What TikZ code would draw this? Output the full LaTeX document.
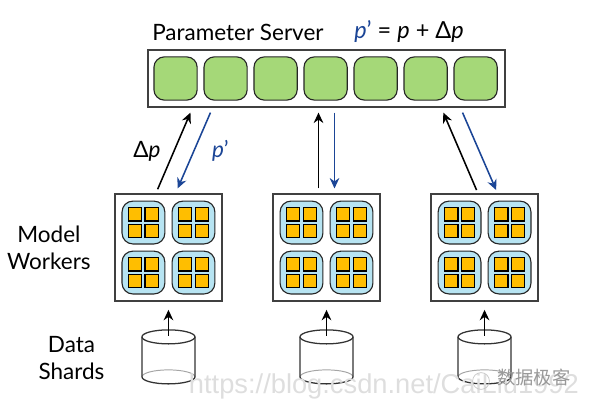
\documentclass[tikz,border=0pt]{standalone}
\usepackage{fontspec}
\setmainfont{Lato}
\newfontfamily\markfont{Liberation Sans}
\newfontfamily\cjkmark{Noto Sans CJK SC}
\usepackage{xcolor}
\usetikzlibrary{arrows.meta,positioning}
\definecolor{cellgreen}{HTML}{A5D878}
\definecolor{paneblue}{HTML}{B7E4F2}
\definecolor{chiporange}{HTML}{FFBE00}
\definecolor{pushblue}{HTML}{1B4596}

\begin{document}
\begin{tikzpicture}[
  x=0.025cm, y=-0.025cm,
  frame/.style={rectangle, draw=black!75, line width=0.9pt, fill=white, outer sep=0pt},
  cell/.style={rectangle, draw=black!85, line width=0.8pt, rounded corners=0.26cm, fill=cellgreen, minimum size=1.08cm, outer sep=0pt},
  pane/.style={rectangle, draw=black!85, line width=0.8pt, rounded corners=0.27cm, fill=paneblue, minimum size=1.07cm, outer sep=0pt},
  chip/.style={rectangle, draw=black, line width=0.8pt, fill=chiporange, minimum size=0.34cm, inner sep=0pt, outer sep=0pt},
  shard/.style={rectangle, minimum width=1.325cm, minimum height=1.35cm, inner sep=0pt, outer sep=0pt},
  drum/.style={draw=black!80, line width=0.9pt},
  lbl/.style={font=\fontsize{16}{19.2}\selectfont, align=center, inner sep=0pt},
  up/.style={-{Stealth[length=2.6mm,width=2.4mm]}, line width=1.1pt, black},
  down/.style={-{Stealth[length=2.6mm,width=2.4mm]}, line width=1.1pt, pushblue},
  wmark/.style={text=black!13, inner sep=0pt}
]
\useasboundingbox (0,0) rectangle (589,407);
% server row
\node[frame, minimum width=8.925cm, minimum height=1.425cm] (s) at (326.5,78.5) {};
\node[cell, anchor=west] (c1) at ([xshift=0.15cm]s.west) {};
\foreach \i [remember=\i as \j (initially 1)] in {2,...,7}
  \node[cell, right=0.17cm of c\j] (c\i) {};
\node[lbl, anchor=base west] (title) at (152,41) {Parameter Server};
\node[lbl, anchor=base west, font=\fontsize{16.7}{19.2}\selectfont] (eq) at (354,39) {\textcolor{pushblue}{\textit{p}’} = \textit{p} + Δ\textit{p}};
% workers
\node[frame, minimum size=2.675cm, below=2.175cm of s, xshift=-3.95cm] (w1) {};
\node[frame, minimum size=2.675cm, below=2.175cm of s] (w2) {};
\node[frame, minimum size=2.675cm, below=2.175cm of s, xshift=3.95cm] (w3) {};
\foreach \w in {1,2,3} {
  \foreach \n/\px/\py in {1/-0.625/0.625, 2/0.625/0.625, 3/-0.625/-0.625, 4/0.625/-0.625} {
    \node[pane] (w\w p\n) at ([xshift=\px cm,yshift=\py cm]w\w.center) {};
    \foreach \cx in {-0.21,0.21}
      \foreach \cy in {-0.21,0.21}
        \node[chip] at ([xshift=\cx cm,yshift=\cy cm]w\w p\n.center) {};
  }
}
% shards
\node[shard, below=0.72cm of w1] (d1) {};
\node[shard, below=0.72cm of w2] (d2) {};
\node[shard, below=0.72cm of w3] (d3) {};
\foreach \w in {1,2,3} {
  \draw[black!35, line width=0.7pt] ([yshift=0.175cm]d\w.south west) arc[start angle=180, end angle=0, x radius=0.6625cm, y radius=0.175cm];
  \draw[drum] ([yshift=-0.175cm]d\w.north west) -- ([yshift=0.175cm]d\w.south west) arc[start angle=180, end angle=360, x radius=0.6625cm, y radius=0.175cm] -- ([yshift=-0.175cm]d\w.north east);
  \draw[drum] ([yshift=-0.175cm]d\w.north) ellipse[x radius=0.6625cm, y radius=0.175cm];
  \draw[up] ([yshift=1.2cm]d\w.south) -- ([yshift=-0.22cm]w\w.south);
}
\node[lbl, left=0.6cm of w1] (model) {Model\\Workers};
\node[lbl, anchor=center] (data) at (71.5,358) {Data\\Shards};
% links
\draw[up] ([xshift=-0.27cm,yshift=0.12cm]w1.north) -- node[midway, left=0.32cm, lbl] (dp) {Δ\textit{p}} ([xshift=-3.4cm,yshift=-0.14cm]s.south);
\draw[down] ([xshift=-2.9cm,yshift=-0.14cm]s.south) -- node[midway, right=0.43cm, lbl, text=pushblue] (pp) {\textit{p}’} ([xshift=0.23cm,yshift=0.14cm]w1.north);
\draw[up] ([xshift=-0.2cm,yshift=0.14cm]w2.north) -- ([xshift=-0.2cm,yshift=-0.14cm]s.south);
\draw[down] ([xshift=0.2cm,yshift=-0.14cm]s.south) -- ([xshift=0.2cm,yshift=0.14cm]w2.north);
\draw[up] ([xshift=-0.2cm,yshift=0.1cm]w3.north) -- ([xshift=2.92cm,yshift=-0.14cm]s.south);
\draw[down] ([xshift=3.4cm,yshift=-0.14cm]s.south) -- ([xshift=0.29cm,yshift=0.1cm]w3.north);
% overlay text
\node[wmark, anchor=base east, font=\markfont\fontsize{19.4}{24}\selectfont] (url) at (579,393) {https://blog.csdn.net/CaiLiu1992};
\node[circle, draw=black!22, line width=0.5pt, minimum size=0.42cm, inner sep=0pt] (logo) at (481,381) {};
\node[wmark, anchor=base west, text=black!40, font=\cjkmark\fontsize{13}{13}\selectfont] (wx) at (497,384) {数据极客};
\end{tikzpicture}
\end{document}
